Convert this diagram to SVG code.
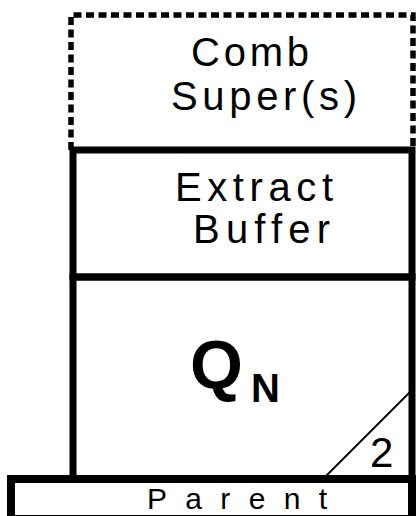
<svg xmlns="http://www.w3.org/2000/svg" width="416" height="516" viewBox="0 0 416 516">
  <style>
    .frame { fill: none; stroke: #000; stroke-linecap: butt; stroke-linejoin: miter; }
    .label { font-family: "Liberation Sans", Arial, sans-serif; fill: #000; }
    .thin  { font-size: 40px; }
    .bold  { font-weight: bold; }
  </style>
  <rect width="416" height="516" fill="#fff"/>

  <!-- optional combined supers: dotted outline above the buffer -->
  <g id="comb-supers">
    <path class="frame" d="M71,150 V15 H413 V150" stroke-width="5.5" stroke-dasharray="8 4.5"/>
    <text class="label thin" x="191" y="66" textLength="118" lengthAdjust="spacing">Comb</text>
    <text class="label thin" x="171" y="110" textLength="186" lengthAdjust="spacing">Super(s)</text>
  </g>

  <!-- extract buffer -->
  <g id="extract-buffer">
    <rect class="frame" x="73" y="150" width="339" height="127" stroke-width="7"/>
    <text class="label thin" x="175" y="201" textLength="158" lengthAdjust="spacing">Extract</text>
    <text class="label thin" x="193" y="243" textLength="137" lengthAdjust="spacing">Buffer</text>
  </g>

  <!-- queue N -->
  <g id="queue-n">
    <rect class="frame" x="73" y="277" width="339" height="202" stroke-width="7"/>
    <text class="label bold" x="190" y="388" font-size="68">Q</text>
    <text class="label bold" x="251" y="402" font-size="40">N</text>
  </g>

  <!-- corner tag -->
  <g id="corner-tag">
    <line class="frame" x1="323" y1="479" x2="412" y2="390" stroke-width="2"/>
    <text class="label" x="370" y="467" font-size="42">2</text>
  </g>

  <!-- parent bar -->
  <g id="parent">
    <rect class="frame" x="11" y="479" width="401" height="40" stroke-width="8"/>
    <text class="label" x="147" y="509" font-size="30" textLength="180" lengthAdjust="spacing">Parent</text>
  </g>
</svg>
